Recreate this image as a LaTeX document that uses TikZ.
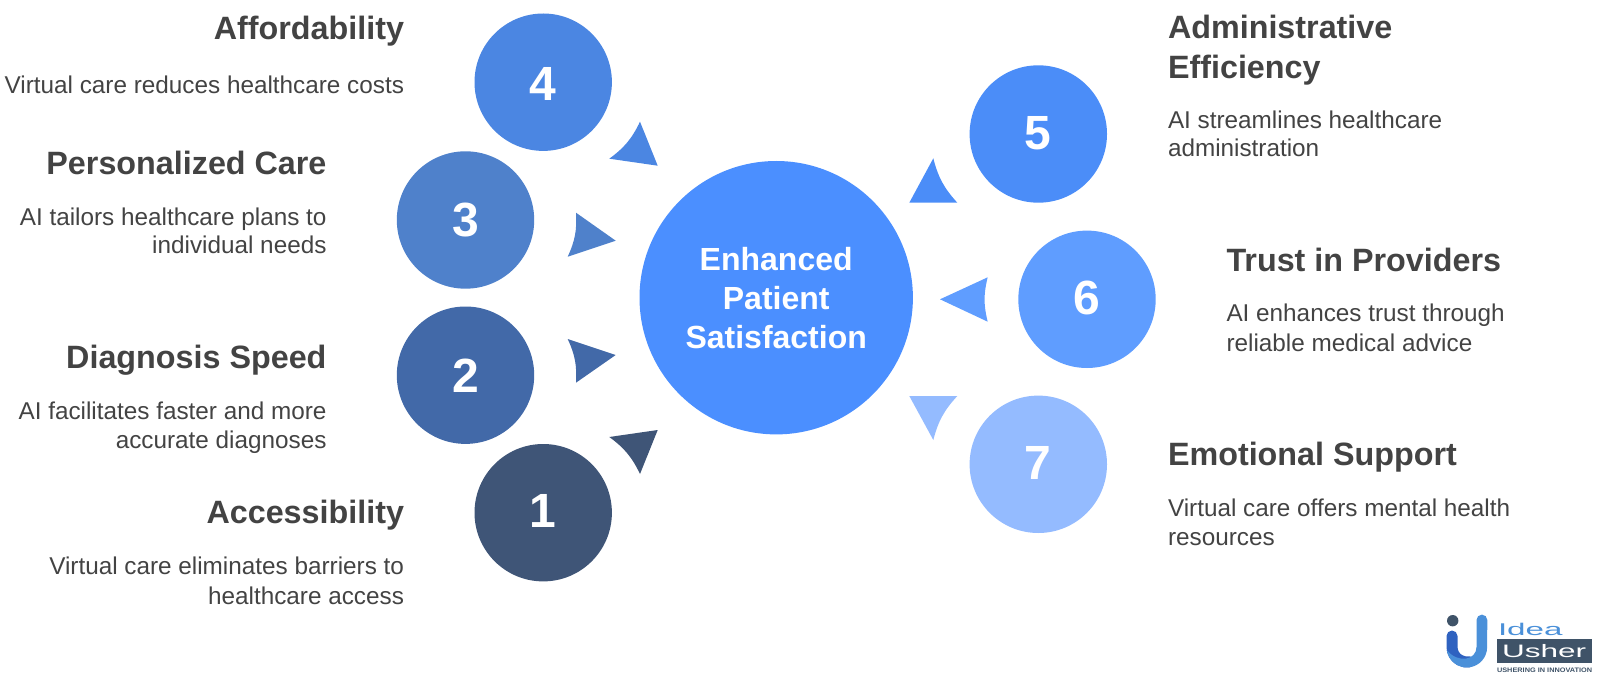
\documentclass[tikz,border=0pt]{standalone}
\usepackage{fontspec}
\setmainfont{Liberation Sans}
\usetikzlibrary{positioning}
\definecolor{ink}{HTML}{434343}
\definecolor{hub}{HTML}{4B8FFF}
\definecolor{cOne}{HTML}{3F5577}
\definecolor{cTwo}{HTML}{4269A8}
\definecolor{cThree}{HTML}{4F81CB}
\definecolor{cFour}{HTML}{4B86E2}
\definecolor{cFive}{HTML}{4B8DF8}
\definecolor{cSix}{HTML}{5F9DFF}
\definecolor{cSeven}{HTML}{94BBFF}
\definecolor{logoBlue}{HTML}{4A90D9}
\definecolor{logoDeep}{HTML}{2F62C0}
\definecolor{logoSlate}{HTML}{3F5368}
\begin{document}
\begin{tikzpicture}[x=1pt,y=-1pt,
  every node/.style={inner sep=0pt,outer sep=0pt}
]

\tikzstyle{bubble}=[circle,minimum size=137.4pt]
\tikzstyle{digit}=[text=white,font=\bfseries\fontsize{48}{48}\selectfont]
\tikzstyle{heading}=[text=ink,font=\bfseries\fontsize{32.3}{36}\selectfont]
\tikzstyle{blurb}=[text=ink,font=\fontsize{24.3}{29}\selectfont]

\useasboundingbox (0,0) rectangle (1600,676);

% circles
\node [circle,minimum size=273.4pt,fill=hub] (hub) at (776.2,297.7) {};
\node [text=white,align=center,font=\bfseries\fontsize{32}{39.2}\selectfont] (hubtext)
  at ([yshift=-0.6pt]hub.center) {Enhanced\\Patient\\Satisfaction};
\node [bubble,fill=cOne] (n1) at (543.2,512.7) {};
\node [bubble,fill=cTwo] (n2) at (465.5,375.2) {};
\node [bubble,fill=cThree] (n3) at (465.5,220) {};
\node [bubble,fill=cFour] (n4) at (543.2,82.2) {};
\node [bubble,fill=cFive] (n5) at (1038.3,134) {};
\node [bubble,fill=cSix] (n6) at (1087,299.3) {};
\node [bubble,fill=cSeven] (n7) at (1038.3,464.3) {};

% numbers
\node [digit] (v1) at ([yshift=1.4pt]n1.center) {1};
\node [digit] (v2) at ([yshift=-0.5pt]n2.center) {2};
\node [digit] (v3) at ([yshift=-0.5pt]n3.center) {3};
\node [digit] (v4) at ([yshift=-2pt]n4.center) {4};
\node [digit] (v5) at ([yshift=1.2pt]n5.center) {5};
\node [digit] (v6) at ([yshift=1pt]n6.center) {6};
\node [digit] (v7) at ([yshift=1.5pt]n7.center) {7};

% arrow heads
\fill [cOne] (657.7,430) -- (609.3,437) to[bend left=14] (640,474) -- cycle;
\fill [cTwo] (615.7,355) -- (567.7,339) to[bend left=14] (576,382.7) -- cycle;
\fill [cThree] (615.7,240.7) -- (576,212.7) to[bend left=14] (567.7,256.7) -- cycle;
\fill [cFour] (657.7,165.7) -- (640,121.7) to[bend left=14] (609.3,158.7) -- cycle;
\fill [cFive] (909.3,202.7) -- (933.3,158.3) to[bend right=14] (957.3,202.7) -- cycle;
\fill [cSix] (940,299.3) -- (987.7,277.3) to[bend right=14] (987.7,321.7) -- cycle;
\fill [cSeven] (909.3,396) -- (957.3,396) to[bend right=14] (933.3,440) -- cycle;

% left texts
\node [heading,anchor=base east] (t4) at (404,40) {Affordability};
\node [blurb,anchor=base east] (d4) at (404,94) {Virtual care reduces healthcare costs};
\node [heading,anchor=base east] (t3) at (326.5,174.5) {Personalized Care};
\node [blurb,anchor=base east] (d3a) at (326.5,225.5) {AI tailors healthcare plans to};
\node [blurb,anchor=base east] (d3b) at (326.5,254) {individual needs};
\node [heading,anchor=base east] (t2) at (326.5,368) {Diagnosis Speed};
\node [blurb,anchor=base east] (d2a) at (326.5,419) {AI facilitates faster and more};
\node [blurb,anchor=base east] (d2b) at (326.5,448) {accurate diagnoses};
\node [heading,anchor=base east] (t1) at (404,523.5) {Accessibility};
\node [blurb,anchor=base east] (d1a) at (404,574.5) {Virtual care eliminates barriers to};
\node [blurb,anchor=base east] (d1b) at (404,604) {healthcare access};

% right texts
\node [heading,anchor=base west] (t5a) at (1168,38.8) {Administrative};
\node [heading,anchor=base west] (t5b) at (1168,78.5) {Efficiency};
\node [blurb,anchor=base west] (d5a) at (1168,128.5) {AI streamlines healthcare};
\node [blurb,anchor=base west] (d5b) at (1168,157) {administration};
\node [heading,anchor=base west] (t6) at (1226.5,271.5) {Trust in Providers};
\node [blurb,anchor=base west] (d6a) at (1226.5,321.5) {AI enhances trust through};
\node [blurb,anchor=base west] (d6b) at (1226.5,351) {reliable medical advice};
\node [heading,anchor=base west] (t7) at (1168,465) {Emotional Support};
\node [blurb,anchor=base west] (d7a) at (1168,516) {Virtual care offers mental health};
\node [blurb,anchor=base west] (d7b) at (1168,545) {resources};

% logo
\fill [logoSlate] (1452.7,620.7) circle (5.7);
\draw [logoDeep,line width=11pt,line cap=round] (1452,636) -- (1452,647) arc (180:80:15);
\fill [logoBlue] (1446.7,650) arc (172:0:20.3) -- (1487.3,620) arc (0:-180:5.4)
  -- (1476.5,647) .. controls (1476.5,660) and (1458,664) .. (1446.7,650) -- cycle;
\fill [logoSlate] (1496.7,639.3) rectangle (1591.7,663.3);
\node [text=logoBlue,anchor=base west,xscale=1.95,font=\fontsize{17}{17}\selectfont] (ideaword) at (1498,635.3) {Idea};
\node [text=white,anchor=base west,xscale=1.75,font=\fontsize{18}{18}\selectfont] (usherword) at (1502,657.7) {Usher};
\node [text=logoSlate,anchor=base west,xscale=1.13,font=\bfseries\fontsize{6.5}{6.5}\selectfont] (tagline) at (1497,672) {USHERING IN INNOVATION};
\end{tikzpicture}
\end{document}
